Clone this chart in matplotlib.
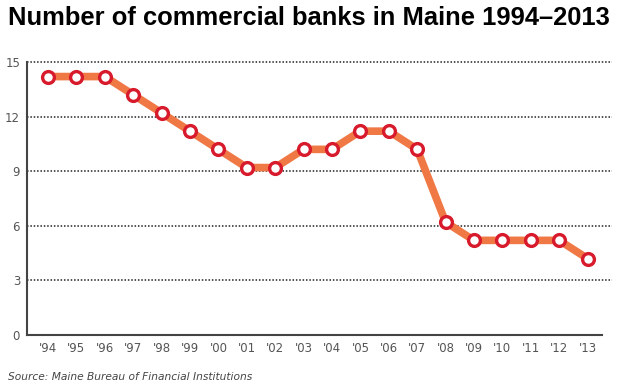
import matplotlib
matplotlib.use("Agg")
import matplotlib.pyplot as plt

# Data
years = ["'94", "'95", "'96", "'97", "'98", "'99", "'00", "'01", "'02", "'03",
         "'04", "'05", "'06", "'07", "'08", "'09", "'10", "'11", "'12", "'13"]
banks = [14.2, 14.2, 14.2, 13.2, 12.2, 11.2, 10.2, 9.2, 9.2, 10.2,
         10.2, 11.2, 11.2, 10.2, 6.2, 5.2, 5.2, 5.2, 5.2, 4.2]
yticks = [0, 3, 6, 9, 12, 15]

W, H = 624, 390
fig = plt.figure(figsize=(W / 100, H / 100), dpi=100)
ax = fig.add_axes([27 / W, 55 / H, (612 - 27) / W, (335 - 58) / H])

x = list(range(len(years)))
ax.plot(x, banks, color="#f07845", linewidth=5.5, solid_joinstyle="round", zorder=3)
ax.plot(x, banks, linestyle="none", marker="o", markersize=8.5,
        markerfacecolor="white", markeredgecolor="#d81b2c", markeredgewidth=2.4, zorder=4)

ax.set_xlim(-0.74, 19.86)
ax.set_ylim(0, 15.22)
ax.set_xticks(x)
ax.set_xticklabels(years)
ax.set_yticks(yticks)
ax.tick_params(length=0, labelsize=8.5, labelcolor="#555555")
ax.tick_params(axis="x", pad=5)
ax.tick_params(axis="y", pad=5)

for t in yticks[1:]:
    ax.axhline(t, color="#222222", linewidth=1.1, linestyle=(0, (1, 1.2)), zorder=1)

for s in ["top", "right"]:
    ax.spines[s].set_visible(False)
for s in ["left", "bottom"]:
    ax.spines[s].set_color("#444444")
    ax.spines[s].set_linewidth(1.5)
ax.spines["left"].set_bounds(0, 15)
ax.spines["bottom"].set_bounds(-0.74, 19.5)

title = fig.text(8 / W, 1 - 18 / H, "Number of commercial banks in Maine 1994\u20132013",
                 fontsize=18, fontweight="bold", family="Liberation Sans",
                 ha="left", va="center", color="black")
source = fig.text(8 / W, 1 - 377 / H, "Source: Maine Bureau of Financial Institutions",
                  fontsize=8.5, style="italic", ha="left", va="center", color="#444444")

# fit text widths to the reference
r = fig.canvas.get_renderer()
for txt, target in [(title, 602), (source, 244)]:
    w = txt.get_window_extent(r).width
    txt.set_fontsize(txt.get_fontsize() * target / w)

fig.savefig("out.png", dpi=100)
